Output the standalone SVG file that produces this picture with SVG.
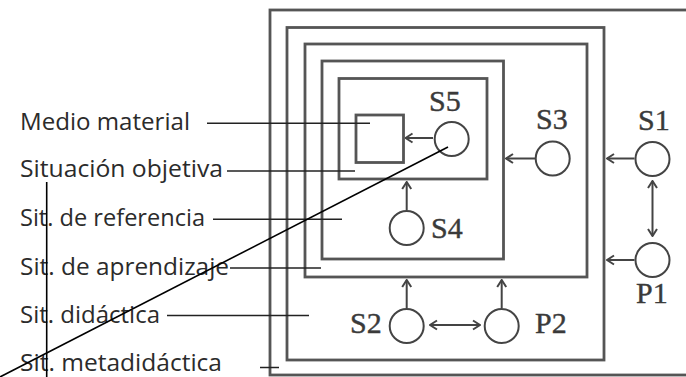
<svg xmlns="http://www.w3.org/2000/svg" width="686" height="377" viewBox="0 0 686 377">
<style>
.box{fill:none;stroke:#555;stroke-width:2.8}
.circ{fill:none;stroke:#444;stroke-width:2}
.arr{fill:none;stroke:#444;stroke-width:2}
.lead{fill:none;stroke:#222;stroke-width:1.5}
.blk{fill:none;stroke:#000;stroke-width:1.6}
.lbl{font-family:"Open Sans","Liberation Sans",sans-serif;fill:#2b2b2b;font-weight:500}
.sl{font-family:"Liberation Serif","DejaVu Serif",serif;font-size:30px;fill:#3a3a3a;stroke:#3a3a3a;stroke-width:0.4}
</style>
<defs>
<marker id="ah" viewBox="-9 -6 10 12" refX="0" refY="0" markerWidth="10" markerHeight="12" orient="auto-start-reverse" markerUnits="userSpaceOnUse">
<path d="M-7,-4.5 L0,0 L-7,4.5" fill="none" stroke="#444" stroke-width="2"/>
</marker>
</defs>
<rect width="686" height="377" fill="#fff"/>
<g id="sit-metadidactica"><rect class="box" x="270" y="10" width="430" height="365"/></g>
<g id="sit-didactica"><rect class="box" x="287" y="27.5" width="317" height="332.5"/></g>
<g id="sit-aprendizaje"><rect class="box" x="305" y="44" width="282" height="233"/></g>
<g id="sit-referencia"><rect class="box" x="322" y="61" width="181.5" height="198"/></g>
<g id="sit-objetiva"><rect class="box" x="339" y="78.5" width="148" height="100.5"/></g>
<g id="medio-material"><rect class="box" x="356" y="115" width="47.5" height="47.5" stroke-width="2.5"/></g>
<g id="S5"><circle class="circ" cx="451.7" cy="139" r="17"/><text class="sl" x="429" y="111">S5</text></g>
<g id="S3"><circle class="circ" cx="552.7" cy="158.5" r="17"/><text class="sl" x="536" y="129">S3</text></g>
<g id="S1"><circle class="circ" cx="652.5" cy="159" r="17"/><text class="sl" x="638" y="130">S1</text></g>
<g id="P1"><circle class="circ" cx="652.5" cy="260" r="17"/><text class="sl" x="636" y="303">P1</text></g>
<g id="S4"><circle class="circ" cx="406.7" cy="228" r="17"/><text class="sl" x="431" y="238">S4</text></g>
<g id="S2"><circle class="circ" cx="406.7" cy="326" r="17"/><text class="sl" x="350" y="333">S2</text></g>
<g id="P2"><circle class="circ" cx="501.7" cy="326" r="17"/><text class="sl" x="535" y="333">P2</text></g>
<g id="labels" font-size="24.5">
<text class="lbl" x="20" y="130" textLength="170" lengthAdjust="spacingAndGlyphs">Medio material</text>
<text class="lbl" x="20" y="177" textLength="203" lengthAdjust="spacingAndGlyphs">Situación objetiva</text>
<text class="lbl" x="20" y="226" textLength="185" lengthAdjust="spacingAndGlyphs">Sit. de referencia</text>
<text class="lbl" x="20" y="275" textLength="209" lengthAdjust="spacingAndGlyphs">Sit. de aprendizaje</text>
<text class="lbl" x="20" y="323" textLength="140" lengthAdjust="spacingAndGlyphs">Sit. didáctica</text>
<text class="lbl" x="20" y="370.5" textLength="202" lengthAdjust="spacingAndGlyphs">Sit. metadidáctica</text>
</g>
<g id="connectors">
<line class="arr" x1="433" y1="138" x2="405.5" y2="138" marker-end="url(#ah)"/>
<line class="arr" x1="535" y1="158.5" x2="506" y2="158.5" marker-end="url(#ah)"/>
<line class="arr" x1="634.5" y1="158.5" x2="607" y2="158.5" marker-end="url(#ah)"/>
<line class="arr" x1="634.5" y1="260" x2="607" y2="260" marker-end="url(#ah)"/>
<line class="arr" x1="652.5" y1="181" x2="652.5" y2="236" marker-start="url(#ah)" marker-end="url(#ah)"/>
<line class="arr" x1="406.7" y1="210" x2="406.7" y2="182" marker-end="url(#ah)"/>
<line class="arr" x1="406.7" y1="308" x2="406.7" y2="280" marker-end="url(#ah)"/>
<line class="arr" x1="501.7" y1="308" x2="501.7" y2="280" marker-end="url(#ah)"/>
<line class="arr" x1="430" y1="325" x2="480" y2="325" marker-start="url(#ah)" marker-end="url(#ah)"/>
<line class="lead" x1="207" y1="123.3" x2="370" y2="123.3"/>
<line class="lead" x1="227" y1="171" x2="355" y2="171"/>
<line class="lead" x1="213" y1="219.3" x2="342" y2="219.3"/>
<line class="lead" x1="230" y1="268" x2="321" y2="268"/>
<line class="lead" x1="167" y1="315.5" x2="309" y2="315.5"/>
<line class="lead" x1="260" y1="367.5" x2="279" y2="367.5"/>
<line class="blk" x1="46.7" y1="182" x2="46.7" y2="377"/>
<line class="blk" x1="0" y1="377" x2="448" y2="147"/>
</g>
</svg>
